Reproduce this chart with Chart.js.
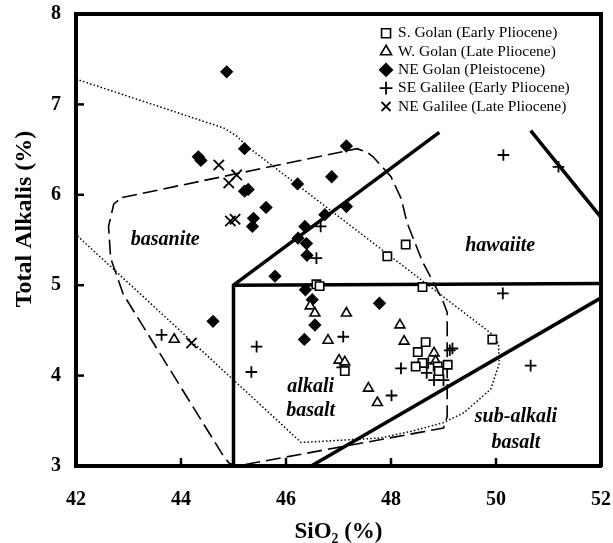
<!DOCTYPE html>
<html>
<head>
<meta charset="utf-8">
<script src="https://cdn.jsdelivr.net/npm/chart.js@4/dist/chart.umd.min.js"></script>
<style>
html,body{margin:0;padding:0;background:#fff;}
#wrap{width:613px;height:543px;}
</style>
</head>
<body>
<div id="wrap"><canvas id="c" width="613" height="543"></canvas></div>
<script>
// ---------- data ----------
const xTicks = [42, 44, 46, 48, 50, 52];
const yTicks = [3, 4, 5, 6, 7, 8];

const sGolanSiO2 = [48.28, 47.93, 46.58, 46.64, 48.60, 49.93, 48.66, 48.51, 48.60, 48.47, 48.89, 49.08, 48.91, 47.12];
const sGolanAlk  = [5.45, 5.32, 5.01, 4.99, 4.98, 4.40, 4.37, 4.26, 4.14, 4.10, 4.10, 4.12, 4.05, 4.05];

const wGolanSiO2 = [43.87, 46.46, 46.55, 47.15, 46.80, 47.01, 47.12, 47.57, 47.74, 48.17, 48.25, 48.82, 48.85];
const wGolanAlk  = [4.40, 4.77, 4.69, 4.69, 4.39, 4.17, 4.15, 3.86, 3.70, 4.56, 4.38, 4.25, 4.16];

const neGolanSiO2 = [44.87, 44.33, 44.38, 45.21, 47.15, 46.87, 46.22, 45.21, 45.28, 45.62, 45.38, 45.36, 46.74, 47.15, 46.36, 46.23, 46.39, 46.40, 45.79, 46.37, 46.50, 46.55, 46.35, 47.78, 44.61];
const neGolanAlk  = [7.36, 6.42, 6.38, 6.51, 6.54, 6.20, 6.12, 6.04, 6.06, 5.86, 5.74, 5.65, 5.78, 5.87, 5.65, 5.52, 5.46, 5.33, 5.10, 4.95, 4.84, 4.56, 4.40, 4.80, 4.60];

const seGalSiO2 = [50.14, 51.19, 50.13, 50.66, 46.66, 46.58, 43.63, 45.44, 45.34, 47.09, 47.07, 48.01, 48.19, 49.12, 49.17, 48.71, 48.68, 48.82, 49.00];
const seGalAlk  = [6.44, 6.31, 4.91, 4.11, 5.65, 5.30, 4.45, 4.32, 4.04, 4.43, 4.09, 3.78, 4.08, 4.28, 4.30, 4.14, 4.03, 3.95, 3.95];

const neGalSiO2 = [44.72, 45.06, 44.91, 44.94, 45.03, 44.20];
const neGalAlk  = [6.33, 6.22, 6.13, 5.71, 5.73, 4.36];

// classification boundaries
const bound1SiO2 = [45, 45, 48.92];   const bound1Alk = [3, 5, 6.69];
const bound2SiO2 = [45, 52];          const bound2Alk = [5, 5.02];
const bound3SiO2 = [46.48, 52];       const bound3Alk = [3, 4.86];
const bound4SiO2 = [50.66, 52];       const bound4Alk = [6.71, 5.75];

// field outlines
const dashedSiO2 = [42.88, 47.35, 47.55, 47.66, 48.00, 48.20, 48.30, 48.60, 48.98, 49.07, 49.07, 49.00, 45.07, 44.92, 44.82, 42.90, 42.66, 42.62, 42.72, 42.88];
const dashedAlk  = [5.97, 6.51, 6.47, 6.42, 6.20, 5.95, 5.70, 5.26, 4.84, 4.70, 3.55, 3.42, 3.00, 3.03, 3.10, 4.90, 5.30, 5.65, 5.90, 5.97];
const dottedSiO2 = [42.00, 44.81, 45.06, 45.25, 49.90, 50.05, 50.06, 49.90, 49.39, 49.00, 48.43, 47.80, 46.29, 42.00];
const dottedAlk  = [7.28, 6.74, 6.65, 6.54, 4.47, 4.35, 4.13, 3.85, 3.59, 3.48, 3.39, 3.31, 3.26, 5.56];

const fieldNames = ['basanite', 'hawaiite', 'alkali', 'basalt', 'sub-alkali', 'basalt'];
const fieldSiO2  = [43.70, 50.08, 46.47, 46.47, 50.38, 50.38];
const fieldAlk   = [5.50, 5.43, 3.88, 3.61, 3.54, 3.26];

// ---------- chart ----------
const FONT = "'Liberation Serif', 'Times New Roman', serif";
function pts(xs, ys) { return xs.map((x, i) => ({x: x, y: ys[i]})); }

function markers(label, xs, ys, style, r, fill, bw) {
  return {
    label: label, data: pts(xs, ys), showLine: false,
    pointStyle: style, pointRadius: r, pointHoverRadius: r,
    borderColor: '#000', pointBorderColor: '#000',
    backgroundColor: fill, pointBackgroundColor: fill,
    borderWidth: bw, pointBorderWidth: bw
  };
}
function outline(xs, ys, width, dash) {
  return {
    label: '', data: pts(xs, ys), showLine: true,
    pointRadius: 0, pointHoverRadius: 0,
    borderColor: '#000', backgroundColor: '#000',
    borderWidth: width, borderDash: dash, fill: false, tension: 0,
    borderCapStyle: 'butt', borderJoinStyle: 'miter'
  };
}

const decor = {
  id: 'decor',
  afterLayout(chart) {
    const lg = chart.legend;
    if (!lg) return;
    lg.left = 379; lg.top = 22.75;
    lg.right = 379 + lg.width; lg.height = 130; lg.bottom = 22.75 + 130;
  },
  afterDatasetsDraw(chart) {
    const ctx = chart.ctx, x = chart.scales.x, y = chart.scales.y;
    ctx.save();
    ctx.strokeStyle = '#000';
    ctx.lineWidth = 2.5;
    xTicks.slice(1, -1).forEach(v => {
      const px = x.getPixelForValue(v);
      ctx.beginPath(); ctx.moveTo(px, y.bottom); ctx.lineTo(px, y.bottom - 8); ctx.stroke();
    });
    yTicks.slice(1, -1).forEach(v => {
      const py = y.getPixelForValue(v);
      ctx.beginPath(); ctx.moveTo(x.left, py); ctx.lineTo(x.left + 8, py); ctx.stroke();
    });
    ctx.fillStyle = '#000';
    ctx.font = 'italic bold 20px ' + FONT;
    ctx.textAlign = 'center';
    ctx.textBaseline = 'middle';
    fieldNames.forEach((t, i) => {
      ctx.fillText(t, x.getPixelForValue(fieldSiO2[i]), y.getPixelForValue(fieldAlk[i]));
    });
    ctx.restore();
  }
};

new Chart(document.getElementById('c'), {
  type: 'scatter',
  data: {
    datasets: [
      markers('S. Golan (Early Pliocene)', sGolanSiO2, sGolanAlk, 'rect', 5.9, '#fff', 1.6),
      markers('W. Golan (Late Pliocene)', wGolanSiO2, wGolanAlk, 'triangle', 5.7, '#fff', 1.6),
      markers('NE Golan (Pleistocene)', neGolanSiO2, neGolanAlk, 'rectRot', 5.6, '#000', 1.5),
      markers('SE Galilee (Early Pliocene)', seGalSiO2, seGalAlk, 'cross', 5.8, '#000', 1.8),
      markers('NE Galilee (Late Pliocene)', neGalSiO2, neGalAlk, 'crossRot', 7.3, '#000', 1.8),
      outline(bound1SiO2, bound1Alk, 3.5, []),
      outline(bound2SiO2, bound2Alk, 3.5, []),
      outline(bound3SiO2, bound3Alk, 3.5, []),
      outline(bound4SiO2, bound4Alk, 3.5, []),
      outline(dashedSiO2, dashedAlk, 1.6, [15, 6]),
      outline(dottedSiO2, dottedAlk, 1.5, [1.5, 2.2])
    ]
  },
  options: {
    responsive: false,
    animation: false,
    events: [],
    layout: {padding: 0},
    plugins: {
      tooltip: {enabled: false},
      legend: {
        display: true,
        position: 'chartArea',
        align: 'start',
        labels: {
          usePointStyle: true,
          boxWidth: 8.5, boxHeight: 9,
          padding: 2.8,
          color: '#000',
          font: {family: FONT, size: 15.5},
          filter: (item) => item.datasetIndex < 5
        }
      }
    },
    scales: {
      x: {
        type: 'linear', position: 'bottom', min: 42, max: 52,
        afterBuildTicks: (s) => { s.ticks = xTicks.map(v => ({value: v})); },
        ticks: {color: '#000', padding: 22, maxRotation: 0, font: {family: FONT, size: 20, weight: 'bold'}},
        grid: {display: false, drawTicks: false},
        border: {display: true, width: 4, color: '#000'},
        title: {display: true, text: 'SiO₂ (%)', color: '#000', padding: {top: 0, bottom: -3}, font: {family: FONT, size: 23, weight: 'bold'}},
        afterFit: (s) => { s.height = 77; s.paddingLeft = 0; s.paddingRight = 0; }
      },
      y: {
        type: 'linear', position: 'left', min: 3, max: 8,
        afterBuildTicks: (s) => { s.ticks = yTicks.map(v => ({value: v})); },
        ticks: {color: '#000', padding: 15, font: {family: FONT, size: 20, weight: 'bold'}},
        grid: {display: false, drawTicks: false},
        border: {display: true, width: 4, color: '#000'},
        title: {display: true, text: '       Total Alkalis (%)', color: '#000', padding: {top: 10.6, bottom: 0}, font: {family: FONT, size: 24, weight: 'bold'}},
        afterFit: (s) => { s.width = 76; s.paddingTop = 0; s.paddingBottom = 0; }
      },
      x2: {
        type: 'linear', position: 'top', min: 42, max: 52,
        ticks: {display: false}, grid: {display: false, drawTicks: false},
        border: {display: true, width: 4, color: '#000'},
        afterFit: (s) => { s.height = 14; s.paddingLeft = 0; s.paddingRight = 0; }
      },
      y2: {
        type: 'linear', position: 'right', min: 3, max: 8,
        ticks: {display: false}, grid: {display: false, drawTicks: false},
        border: {display: true, width: 4, color: '#000'},
        afterFit: (s) => { s.width = 12; s.paddingTop = 0; s.paddingBottom = 0; }
      }
    }
  },
  plugins: [decor]
});
</script>
</body>
</html>
